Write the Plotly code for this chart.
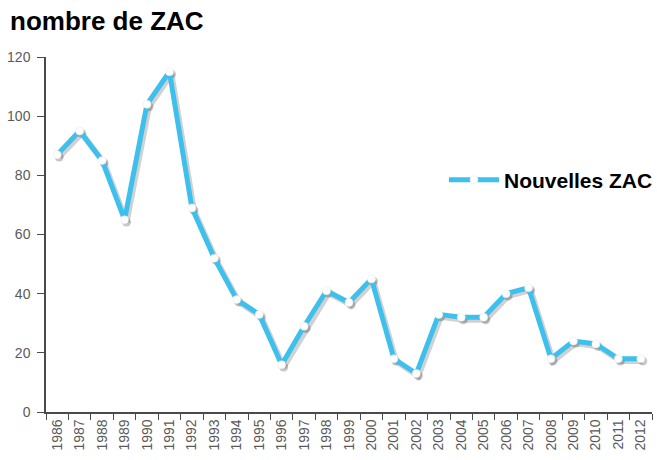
import plotly.graph_objects as go

years = [str(y) for y in range(1986, 2013)]
nouvelles_zac = [87, 95, 85, 65, 104, 115, 69, 52, 38, 33, 16, 29, 41, 37, 45,
                 18, 13, 33, 32, 32, 40, 42, 18, 24, 23, 18, 18]
y_ticks = [0, 20, 40, 60, 80, 100, 120]

LINE = "#3EC0EC"
AXIS = "#4a4a4a"
FONT = "Liberation Sans, Arial, sans-serif"

fig = go.Figure()

# invisible carrier trace so the visible category axis knows its categories
fig.add_trace(go.Scatter(x=years, y=nouvelles_zac, mode="lines", opacity=0,
                         showlegend=False, hoverinfo="skip"))

# soft drop shadow (same data, drawn on a slightly offset copy of the axes)
fig.add_trace(go.Scatter(
    x=years, y=nouvelles_zac, mode="lines+markers",
    line=dict(color="rgba(0,0,0,0.18)", width=6),
    marker=dict(color="rgba(0,0,0,0.22)", size=9),
    xaxis="x2", yaxis="y2", showlegend=False, hoverinfo="skip"))

fig.add_trace(go.Scatter(
    x=years, y=nouvelles_zac, mode="lines+markers", name="<b>Nouvelles ZAC</b>",
    line=dict(color=LINE, width=5),
    marker=dict(color="white", size=8, line=dict(color="#e6e6e6", width=0.5)),
    xaxis="x3", yaxis="y3"))

fig.update_layout(
    width=657, height=460,
    margin=dict(l=46, r=5, t=57, b=48, autoexpand=False),
    paper_bgcolor="white", plot_bgcolor="white",
    title=dict(text="<b>nombre de ZAC</b>", x=10/657, xref="container", xanchor="left",
               y=1 - 12/460, yref="container", yanchor="top",
               font=dict(family=FONT, size=26, color="black")),
    xaxis=dict(type="category", range=[-0.5, 26.5], tickson="boundaries",
               showline=True, linecolor=AXIS, linewidth=1.5, ticks="outside",
               ticklen=6, tickcolor=AXIS, tickangle=-90, showgrid=False,
               zeroline=False, tickfont=dict(family=FONT, size=14, color="#5a5a5a")),
    yaxis=dict(range=[0, 120], tickvals=y_ticks, showline=True, linecolor=AXIS,
               linewidth=1.5, ticks="outside", ticklen=7, tickcolor=AXIS,
               ticklabelstandoff=4, showgrid=False, zeroline=False,
               tickfont=dict(family=FONT, size=14, color="#5a5a5a")),
    xaxis2=dict(type="category", range=[-0.5 - 0.09, 26.5 - 0.09], overlaying="x",
                visible=False),
    yaxis2=dict(range=[0.8, 120.8], overlaying="y", visible=False),
    xaxis3=dict(type="category", range=[-0.5, 26.5], overlaying="x", visible=False),
    yaxis3=dict(range=[0, 120], overlaying="y", visible=False),
    legend=dict(x=(444 - 46) / 606, xanchor="left",
                y=(412 - 180) / 355, yanchor="middle",
                bgcolor="rgba(0,0,0,0)", itemwidth=50,
                font=dict(family=FONT, size=21, color="black")),
    showlegend=True,
)

fig.write_html("out.html", config={"displayModeBar": False},
               post_script="document.body.style.margin='0';")
